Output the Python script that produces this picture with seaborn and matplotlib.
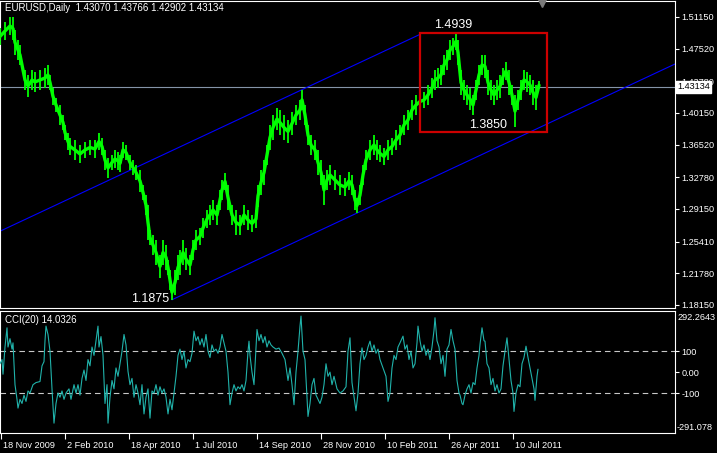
import numpy as np
import pandas as pd
import matplotlib
matplotlib.use("Agg")
import matplotlib.pyplot as plt
import matplotlib.transforms as mtransforms
from matplotlib.patches import Rectangle
import seaborn as sns

sns.set_theme(style="dark")
plt.rcParams['font.family'] = ['Liberation Sans', 'DejaVu Sans']

# ---------------- data ----------------
title_text = "EURUSD,Daily  1.43070 1.43766 1.42902 1.43134"

bar_x = [0, 5, 10, 13, 15, 18, 20, 25, 28, 32, 35, 40, 45, 48, 50, 53, 56, 60, 63, 65,
         68, 70, 75, 80, 85, 90, 95, 99, 102, 105, 108, 112, 115, 118, 120, 123, 126, 130, 133, 136,
         140, 143, 146, 148, 150, 153, 156, 160, 163, 166, 168, 170, 172, 175, 178, 180, 183, 186, 190, 193,
         196, 200, 203, 207, 210, 213, 217, 220, 222, 225, 228, 232, 236, 240, 244, 248, 252, 256, 258, 261,
         264, 267, 270, 273, 277, 280, 284, 288, 292, 296, 300, 302, 305, 308, 311, 315, 318, 321, 324, 327,
         330, 335, 340, 345, 349, 352, 355, 357, 360, 363, 366, 370, 374, 377, 380, 384, 388, 392, 396, 400,
         404, 408, 412, 416, 420, 424, 428, 432, 435, 438, 441, 444, 447, 450, 453, 456, 458, 461, 464, 467,
         470, 473, 476, 479, 482, 485, 488, 491, 494, 497, 500, 503, 506, 509, 512, 515, 518, 521, 524, 527,
         530, 533, 536, 539]
bar_high = [1.4989, 1.5058, 1.5115, 1.5115, 1.4966, 1.4851, 1.4794, 1.4508, 1.4450, 1.4508, 1.4485, 1.4508, 1.4531, 1.4565, 1.4450, 1.4301, 1.4187, 1.4107, 1.3992, 1.3877,
            1.3786, 1.3728, 1.3706, 1.3648, 1.3683, 1.3706, 1.3706, 1.3786, 1.3728, 1.3591, 1.3500, 1.3534, 1.3591, 1.3568, 1.3534, 1.3683, 1.3648, 1.3534, 1.3477, 1.3419,
            1.3362, 1.3190, 1.3075, 1.2961, 1.2675, 1.2617, 1.2560, 1.2388, 1.2560, 1.2503, 1.2331, 1.2216, 1.2044, 1.2216, 1.2388, 1.2445, 1.2560, 1.2468, 1.2388, 1.2560,
            1.2675, 1.2697, 1.2812, 1.2904, 1.2961, 1.3018, 1.2961, 1.3133, 1.3247, 1.3328, 1.3190, 1.2961, 1.2904, 1.2846, 1.2961, 1.2904, 1.2846, 1.2904, 1.3190, 1.3362,
            1.3477, 1.3648, 1.3877, 1.3992, 1.4072, 1.4049, 1.3992, 1.3935, 1.4026, 1.4107, 1.4164, 1.4282, 1.4107, 1.3877, 1.3763, 1.3706, 1.3591, 1.3477, 1.3305, 1.3362,
            1.3419, 1.3362, 1.3305, 1.3270, 1.3339, 1.3305, 1.3133, 1.3041, 1.3190, 1.3419, 1.3591, 1.3706, 1.3763, 1.3706, 1.3648, 1.3614, 1.3706, 1.3728, 1.3820, 1.3877,
            1.3992, 1.4049, 1.4164, 1.4221, 1.4244, 1.4256, 1.4336, 1.4416, 1.4508, 1.4531, 1.4565, 1.4680, 1.4737, 1.4851, 1.4874, 1.4939, 1.4851, 1.4508, 1.4393, 1.4336,
            1.4301, 1.4221, 1.4393, 1.4565, 1.4680, 1.4680, 1.4508, 1.4393, 1.4336, 1.4393, 1.4450, 1.4531, 1.4599, 1.4508, 1.4336, 1.4221, 1.4278, 1.4393, 1.4508, 1.4485,
            1.4450, 1.4393, 1.4336, 1.4377]
bar_low = [1.4794, 1.4851, 1.4909, 1.4851, 1.4680, 1.4622, 1.4565, 1.4278, 1.4198, 1.4278, 1.4256, 1.4278, 1.4301, 1.4336, 1.4278, 1.4107, 1.4026, 1.3877, 1.3820, 1.3706,
           1.3591, 1.3534, 1.3477, 1.3442, 1.3500, 1.3534, 1.3500, 1.3591, 1.3534, 1.3362, 1.3270, 1.3362, 1.3385, 1.3362, 1.3339, 1.3500, 1.3477, 1.3362, 1.3305, 1.3247,
           1.3110, 1.3018, 1.2846, 1.2560, 1.2503, 1.2388, 1.2273, 1.2125, 1.2273, 1.2216, 1.2159, 1.1987, 1.1875, 1.1930, 1.2102, 1.2159, 1.2273, 1.2216, 1.2159, 1.2331,
           1.2445, 1.2503, 1.2583, 1.2697, 1.2732, 1.2789, 1.2732, 1.2904, 1.3018, 1.3133, 1.2904, 1.2732, 1.2617, 1.2617, 1.2732, 1.2675, 1.2652, 1.2697, 1.2938, 1.3075,
           1.3190, 1.3419, 1.3591, 1.3706, 1.3820, 1.3763, 1.3706, 1.3671, 1.3763, 1.3877, 1.3935, 1.4049, 1.3877, 1.3648, 1.3534, 1.3477, 1.3305, 1.3190, 1.2961, 1.3133,
           1.3190, 1.3133, 1.3075, 1.3064, 1.3133, 1.3075, 1.2904, 1.2869, 1.2961, 1.3190, 1.3362, 1.3477, 1.3534, 1.3477, 1.3454, 1.3419, 1.3477, 1.3534, 1.3591, 1.3648,
           1.3763, 1.3820, 1.3935, 1.3992, 1.4049, 1.4072, 1.4107, 1.4187, 1.4278, 1.4301, 1.4336, 1.4450, 1.4508, 1.4622, 1.4680, 1.4737, 1.4565, 1.4221, 1.4164, 1.4107,
           1.4049, 1.3992, 1.4164, 1.4336, 1.4450, 1.4416, 1.4221, 1.4164, 1.4107, 1.4164, 1.4187, 1.4336, 1.4393, 1.4221, 1.4107, 1.3850, 1.4049, 1.4164, 1.4278, 1.4256,
           1.4221, 1.4107, 1.4049, 1.4290]

cci_x = [0, 2, 3, 5, 7, 8, 10, 12, 13, 15, 17, 18, 20, 22, 24, 26, 28, 30, 33, 36,
         40, 42, 44, 45, 46, 48, 50, 52, 54, 56, 58, 60, 62, 64, 66, 69, 71, 74, 76, 78,
         80, 82, 84, 86, 88, 90, 92, 94, 96, 98, 99, 101, 103, 105, 107, 108, 110, 112, 114, 116,
         118, 120, 122, 124, 126, 128, 130, 132, 134, 136, 138, 140, 142, 144, 146, 148, 150, 152, 154, 156,
         158, 160, 162, 164, 166, 168, 170, 172, 174, 176, 178, 180, 182, 184, 186, 188, 190, 192, 194, 196,
         198, 200, 202, 204, 206, 208, 210, 212, 214, 216, 218, 220, 222, 224, 226, 228, 230, 232, 234, 236,
         238, 240, 242, 244, 246, 248, 249, 250, 252, 254, 256, 257, 259, 261, 263, 265, 267, 269, 271, 273,
         276, 279, 282, 285, 288, 290, 292, 294, 296, 298, 300, 301, 303, 305, 307, 308, 310, 312, 314, 316,
         318, 320, 322, 324, 326, 328, 330, 332, 334, 337, 340, 343, 346, 348, 350, 352, 356, 358, 360, 362,
         364, 366, 368, 370, 372, 374, 376, 378, 380, 383, 386, 388, 390, 392, 394, 396, 398, 400, 403, 405,
         407, 409, 411, 413, 415, 417, 418, 420, 422, 424, 426, 428, 430, 432, 434, 435, 437, 439, 441, 443,
         445, 447, 449, 451, 453, 455, 457, 459, 460, 462, 463, 465, 467, 469, 471, 473, 475, 477, 479, 480,
         482, 484, 485, 487, 489, 491, 493, 495, 497, 499, 501, 503, 505, 507, 509, 511, 513, 514, 516, 518,
         520, 522, 524, 526, 528, 530, 532, 534, 535, 537, 538]
cci_val = [40, 60, -10, 120, 212, 120, 160, 110, 140, -60, -130, -172, -130, -150, -110, -140, -90, -100, -60, -50,
           -45, 30, 50, 150, 220, 180, 100, -80, -244, -150, -100, -120, -90, -130, -100, -80, -130, -60, -100, -60,
           -110, -30, 10, -40, 60, 30, 120, 80, 150, 220, 120, 170, 80, -150, -60, -244, -120, -40, -80, 20,
           -20, 40, 100, 180, 130, 4, -60, -30, -120, -60, -100, -156, -60, -200, -120, -80, -220, -90, -100, -60,
           -110, -70, -100, -80, -120, -200, -130, -180, -100, -20, 80, 110, 60, 100, 20, 60, 50, 90, 196, 150,
           170, 130, 160, 120, 180, 100, 70, 130, 100, 110, 90, 120, 180, 140, 100, 0, -156, -100, -60, -90,
           -70, -80, -60, -90, -40, 100, 148, 80, 0, -60, 120, 204, 150, 180, 140, 170, 120, 150, 130, 120,
           110, 115, 90, 60, -40, 20, -60, -156, 0, 100, 220, 268, 100, 60, -120, -212, -150, -60, -30, -110,
           -130, -150, -120, -60, 40, -20, 0, -60, -20, -80, -100, -90, -70, 100, 164, -50, -185, -100, 40, 116,
           60, 80, 120, 148, 100, 130, 90, 110, 60, 20, -20, -140, -100, 20, 80, 60, 120, 140, 172, 110,
           130, 60, 100, 20, 40, 140, 220, 150, 100, 130, 80, 110, 60, 120, 200, 260, 150, 120, 40, 80,
           -20, 110, 130, 204, 150, 110, -40, -100, -110, -150, -156, -110, -80, -60, -100, -50, -60, 20, 80, 132,
           212, 150, 148, 40, 20, -60, -30, -90, -60, -100, -80, 30, 100, 164, 60, -40, -100, -188, -100, -60,
           -70, 40, 70, 124, 70, 20, -30, -80, -135, -20, 14.0326]

date_tick_pos = [1, 65, 129, 193, 257, 321, 385, 449, 513]
date_tick_labels = ["18 Nov 2009", "2 Feb 2010", "18 Apr 2010", "1 Jul 2010", "14 Sep 2010",
                    "28 Nov 2010", "10 Feb 2011", "26 Apr 2011", "10 Jul 2011"]
price_ticks = [1.18150, 1.21780, 1.25410, 1.29150, 1.32780, 1.36520, 1.40150, 1.43780, 1.47520, 1.51150]
last_price = 1.43134
cci_name = "CCI(20)"
cci_last = 14.0326
cci_levels = [100, -100]
cci_max, cci_min = 292.2643, -291.078
# trend channel: anchor bar, anchor price, bar span of each line
channel_anchor_x = [302, 172]
channel_anchor_y = [1.4282, 1.1875]
channel_span = [(0, 420), (172, 675)]
channel_slope = 0.000537
box_x = [420, 547]
box_y = [1.3797, 1.4932]
high_label, mid_low_label, low_label = "1.4939", "1.3850", "1.1875"

# ---------------- figure ----------------
W, H = 717, 453
fig = plt.figure(figsize=(W / 100, H / 100), dpi=100, facecolor='black')
ax1 = fig.add_axes([0 / W, (H - 308) / H, 675 / W, 307 / H])
ax2 = fig.add_axes([0 / W, (H - 433) / H, 675 / W, 122 / H])

for ax in (ax1, ax2):
    ax.set_facecolor('black')
    ax.grid(False)
    for s in ax.spines.values():
        s.set_color('white')
        s.set_linewidth(0.8)
    ax.set_xlim(0, 675)

# price bars: high-low strokes plus a mid trace
lime = '#00ff00'
ax1.vlines(bar_x, bar_low, bar_high, color=lime, linewidth=1.3, zorder=3)
mid_df = pd.DataFrame({'x': bar_x, 'mid': [(h + l) / 2 for h, l in zip(bar_high, bar_low)]})
sns.lineplot(data=mid_df, x='x', y='mid', ax=ax1, sort=False, estimator=None,
             color=lime, linewidth=2.4, zorder=3)

# current price line
ax1.axhline(last_price, color='#8494a8', linewidth=0.8, zorder=2)

# channel lines
for ax0, ay0, (xa, xb) in zip(channel_anchor_x, channel_anchor_y, channel_span):
    xs = [xa, xb]
    ys = [ay0 + channel_slope * (xx - ax0) for xx in xs]
    ax1.plot(xs, ys, color='#0000ff', linewidth=0.8, zorder=2)

# red box
ax1.add_patch(Rectangle((box_x[0], box_y[0]), box_x[1] - box_x[0], box_y[1] - box_y[0],
                        fill=False, edgecolor='#cc0000', linewidth=1.6, zorder=4))

ax1.set_ylim(1.17806, 1.5298)
ax1.set_xlim(0, 675)
ax1.set_xlabel(''); ax1.set_ylabel('')
ax1.set_xticks([])
ax1.yaxis.tick_right()
ax1.set_yticks(price_ticks)
ax1.set_yticklabels([f"{v:.5f}" for v in price_ticks])
ax1.tick_params(axis='y', colors='white', direction='out', length=3, width=0.8,
                labelsize=6.6, pad=1.5, right=True, left=False)

# extreme labels
ax1.text(453, 1.4960, high_label, color='white', fontsize=9, ha='center', va='bottom', zorder=6)
ax1.text(488, 1.3872, mid_low_label, color='white', fontsize=9, ha='center', va='center', zorder=6)
ax1.text(169, 1.1885, low_label, color='white', fontsize=9, ha='right', va='center', zorder=6)

# title
ax1.text(5 / 675, (308 - 8) / 307, title_text, transform=ax1.transAxes, color='white',
         fontsize=7, ha='left', va='center')

# last price label (covers the 1.43780 tick label as in the terminal)
bt = mtransforms.blended_transform_factory(ax1.transAxes, ax1.transData)
ax1.text(677 / 675, last_price, f"{last_price:.5f}", transform=bt, color='black', fontsize=6.6,
         ha='left', va='center', zorder=10, clip_on=False,
         bbox=dict(facecolor='white', edgecolor='white', boxstyle='square,pad=0.15'))

# chart shift marker
bt2 = mtransforms.blended_transform_factory(ax1.transData, ax1.transAxes)
ax1.plot([542], [0.992], marker='v', markersize=6, color='#7a7a7a', transform=bt2, clip_on=False, zorder=7)

# ---------------- CCI ----------------
cci_df = pd.DataFrame({'x': cci_x, 'v': cci_val})
sns.lineplot(data=cci_df, x='x', y='v', ax=ax2, sort=False, estimator=None,
             color='#20b2aa', linewidth=0.8, zorder=3)
for lv in cci_levels:
    ax2.axhline(lv, color='#c8c8c8', linewidth=0.8, linestyle=(0, (5, 3.5)), zorder=2)
ax2.set_ylim(cci_min, cci_max)
ax2.set_xlim(0, 675)
ax2.set_xlabel(''); ax2.set_ylabel('')
ax2.yaxis.tick_right()
ax2.set_yticks([100, 0, -100])
ax2.set_yticklabels(["100", "0.00", "-100"])
ax2.tick_params(axis='y', colors='white', direction='out', length=3, width=0.8,
                labelsize=6.6, pad=1.5, right=True, left=False)
ax2.text(677 / 675, (433 - 317) / 122, f"{cci_max:.4f}", transform=ax2.transAxes, color='white',
         fontsize=6.6, ha='left', va='center', clip_on=False)
ax2.text(677 / 675, (433 - 427) / 122, f"{cci_min:.3f}", transform=ax2.transAxes, color='white',
         fontsize=6.6, ha='left', va='center', clip_on=False)
ax2.text(5 / 675, (433 - 320) / 122, f"{cci_name} {cci_last:.4f}", transform=ax2.transAxes,
         color='white', fontsize=7, ha='left', va='center')

ax2.set_xticks(date_tick_pos)
ax2.set_xticklabels(date_tick_labels)
ax2.tick_params(axis='x', colors='white', direction='out', length=4, width=0.8,
                labelsize=6.6, pad=1.5, bottom=True)
off = mtransforms.ScaledTranslation(2 / 100, 0, fig.dpi_scale_trans)
for lbl in ax2.get_xticklabels():
    lbl.set_horizontalalignment('left')
    lbl.set_transform(lbl.get_transform() + off)

fig.savefig('out.png', dpi=100, facecolor='black')
